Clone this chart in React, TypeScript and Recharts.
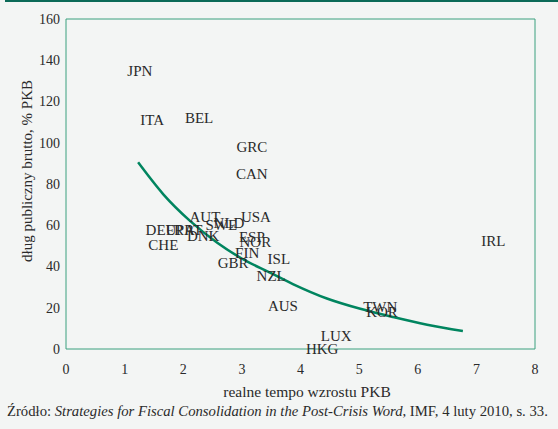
import React from 'react';
import {
    ComposedChart,
    Scatter,
    Line,
    XAxis,
    YAxis,
    ReferenceArea,
} from 'recharts';

// --- Data ---

const countries = ['JPN', 'ITA', 'BEL', 'GRC', 'CAN', 'AUT', 'SWE', 'NLD', 'USA', 'DEU', 'FRA', 'PRT', 'DNK', 'CHE', 'ESP', 'NOR', 'FIN', 'GBR', 'ISL', 'NZL', 'AUS', 'TWN', 'KOR', 'LUX', 'HKG', 'IRL'];
const growth = [1.26, 1.47, 2.27, 3.17, 3.17, 2.37, 2.65, 2.78, 3.24, 1.62, 1.95, 2.1, 2.34, 1.66, 3.17, 3.23, 3.09, 2.85, 3.63, 3.5, 3.7, 5.36, 5.39, 4.61, 4.37, 7.29];
const debt = [134.8, 111, 112, 98, 85, 64, 60, 61, 64, 57.7, 57.7, 57.5, 54.8, 50.4, 54.3, 52, 46.5, 41.7, 43.6, 35.4, 20.8, 20.4, 17.9, 6.3, 0, 52.4];

const trendX = [1.23, 1.66, 2.12, 2.58, 3.02, 3.48, 3.87, 4.45, 5.02, 5.58, 6.16, 6.77];
const trendY = [90.5, 75, 62, 51.5, 43.5, 37, 31.5, 24.5, 19.5, 15.5, 11.8, 8.7];

const xTicks = [0, 1, 2, 3, 4, 5, 6, 7, 8];
const yTicks = [0, 20, 40, 60, 80, 100, 120, 140, 160];

const points = countries.map((name, i) => ({ name, x: growth[i], y: debt[i] }));
const trend = trendX.map((x, i) => ({ x, y: trendY[i] }));

const FONT = "'Liberation Serif', 'Times New Roman', serif";

const CountryLabel = (props: any) => (
    <text
        x={props.cx}
        y={props.cy}
        textAnchor="middle"
        dominantBaseline="central"
        fontSize={15}
        fontFamily={FONT}
        fill="#2a2a2a"
    >
        {props.payload.name}
    </text>
);

export default function App() {
    return (
        <div style={{ position: 'absolute', left: 0, top: 0, width: 558, height: 429, background: '#f3f5f4', fontFamily: FONT, overflow: 'hidden' }}>
            <div style={{ position: 'absolute', left: 5, top: 0, width: 553, height: 2, background: '#0b6a58' }} />
            <ComposedChart width={558} height={429} margin={{ top: 19, right: 23, bottom: 50, left: 0 }}>
                <XAxis
                    type="number"
                    dataKey="x"
                    domain={[0, 8]}
                    ticks={xTicks}
                    axisLine={false}
                    tickLine={false}
                    tickSize={6}
                    tickMargin={9}
                    height={30}
                    tick={{ fill: '#2a2a2a', fontSize: 14, fontFamily: FONT }}
                />
                <YAxis
                    type="number"
                    dataKey="y"
                    domain={[0, 160]}
                    ticks={yTicks}
                    axisLine={false}
                    tickLine={false}
                    tickSize={4}
                    tickMargin={2}
                    width={66}
                    tick={{ fill: '#2a2a2a', fontSize: 14, fontFamily: FONT }}
                />
                <ReferenceArea x1={0} x2={8} y1={0} y2={160} fill="none" stroke="#3aa07f" strokeWidth={1} strokeOpacity={1} />
                <Line
                    data={trend}
                    type="monotone"
                    dataKey="y"
                    stroke="#00855f"
                    strokeWidth={2.5}
                    dot={false}
                    isAnimationActive={false}
                />
                <Scatter data={points} shape={CountryLabel} isAnimationActive={false} />
            </ComposedChart>
            <div style={{ position: 'absolute', left: 27, top: 171, transform: 'translate(-50%, -50%) rotate(-90deg)', whiteSpace: 'nowrap', fontSize: 15, color: '#2a2a2a' }}>
                dług publiczny brutto, % PKB
            </div>
            <div style={{ position: 'absolute', left: 307, top: 392, transform: 'translate(-50%, -50%)', whiteSpace: 'nowrap', fontSize: 15.5, color: '#2a2a2a' }}>
                realne tempo wzrostu PKB
            </div>
            <div style={{ position: 'absolute', left: 7, top: 403, whiteSpace: 'nowrap', fontSize: 14.7, color: '#2a2a2a' }}>
                Źródło: <i>Strategies for Fiscal Consolidation in the Post-Crisis Word</i>, IMF, 4 luty 2010, s. 33.
            </div>
        </div>
    );
}
